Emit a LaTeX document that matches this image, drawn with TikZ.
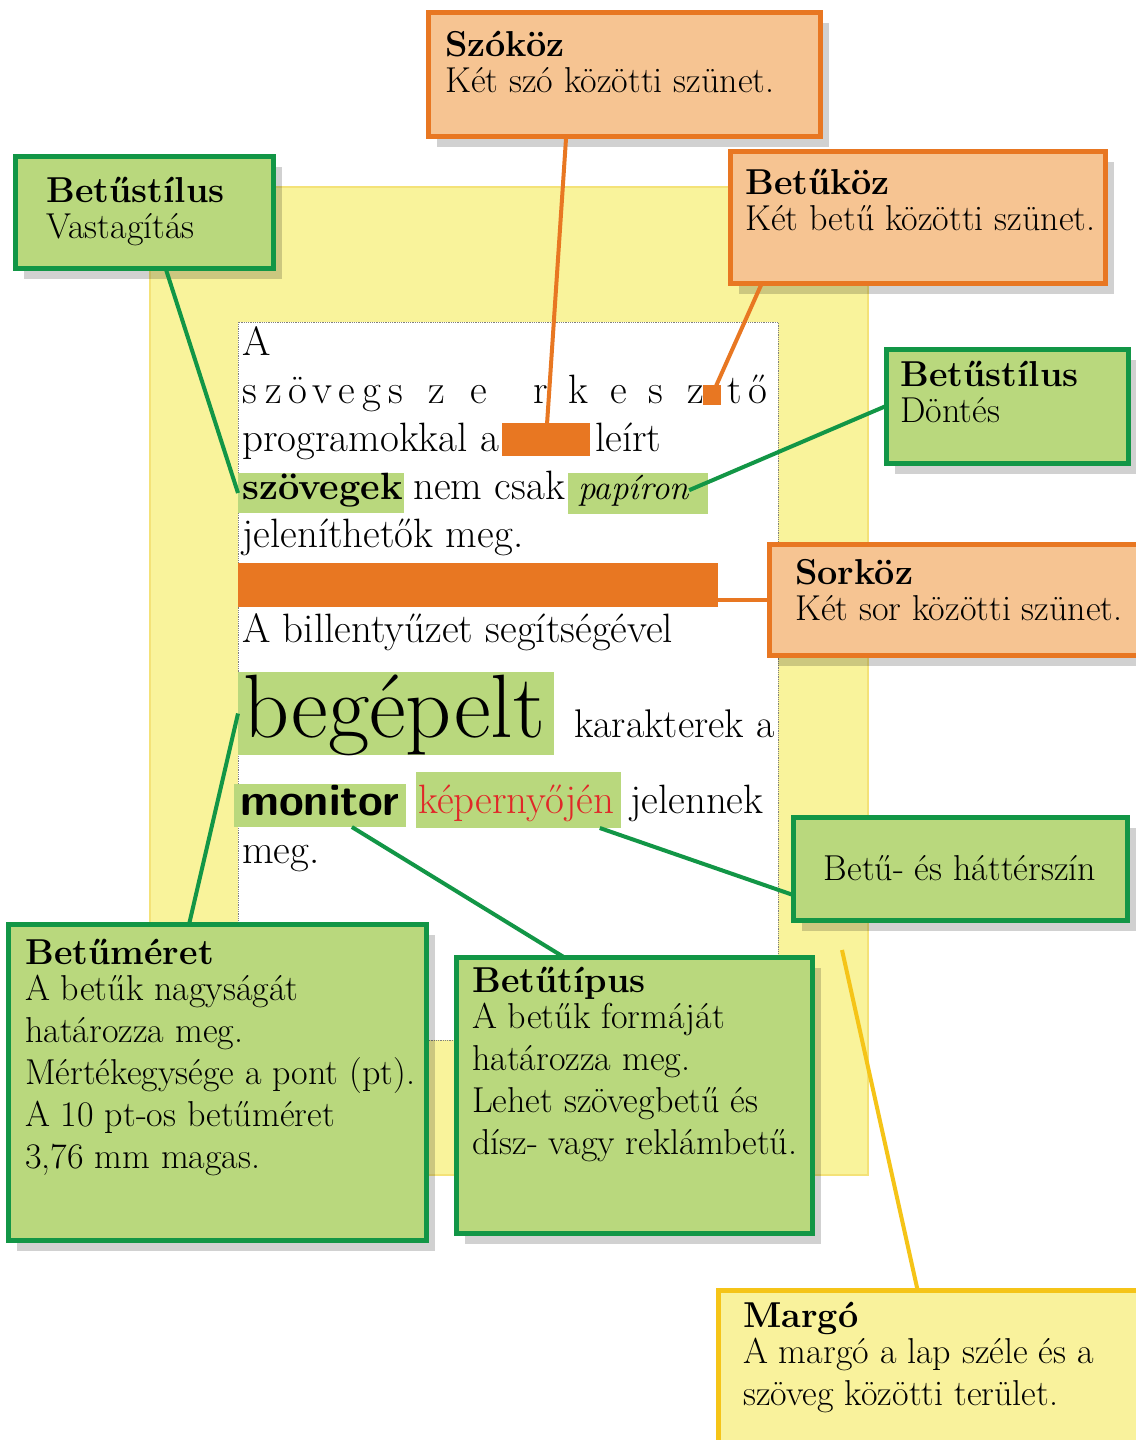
\documentclass[tikz,border=0pt]{standalone}
\usepackage{fontspec}
\usetikzlibrary{shadows}

\definecolor{boxorange}{RGB}{232,119,34}
\definecolor{orangefill}{RGB}{246,196,146}
\definecolor{boxgreen}{RGB}{18,150,70}
\definecolor{greenfill}{RGB}{185,216,125}
\definecolor{pageyellow}{RGB}{249,243,155}
\definecolor{pageedge}{RGB}{244,226,120}
\definecolor{margogold}{RGB}{245,196,24}
\definecolor{margofill}{RGB}{249,242,156}
\definecolor{redtext}{RGB}{224,40,40}

\tikzset{
    infobox/.style={line width=5pt, anchor=north west, inner sep=0pt, outer sep=0pt,
        drop shadow={shadow xshift=9pt, shadow yshift=-11pt, opacity=.18, fill=black}},
    obox/.style={infobox, draw=boxorange, fill=orangefill},
    gbox/.style={infobox, draw=boxgreen, fill=greenfill},
    ybox/.style={infobox, draw=margogold, fill=margofill},
    oline/.style={draw=boxorange, line width=4pt},
    gline/.style={draw=boxgreen, line width=4pt},
    yline/.style={draw=margogold, line width=4pt},
    boxtext/.style={anchor=north west, align=left, inner sep=0pt, font=\fontsize{36}{36}\selectfont},
    pagetext/.style={anchor=base west, inner sep=0pt, font=\fontsize{41}{48}\selectfont},
    hl/.style={fill=greenfill, anchor=north west, inner sep=0pt, outer sep=0pt},
    markbox/.style={fill=boxorange, anchor=north west, inner sep=0pt, outer sep=0pt}
}

\begin{document}
\begin{tikzpicture}[x=1pt,y=1pt,yscale=-1]
    \useasboundingbox (0,0) rectangle (1135,1440);

    % lap es szovegterulet
    \node[fill=pageyellow, draw=pageedge, line width=1.5pt, anchor=north west, inner sep=0pt, outer sep=0pt,
        minimum width=718pt, minimum height=988pt] (page) at (150,187) {};
    \node[fill=white, draw=gray, densely dotted, line width=.8pt, anchor=north west, inner sep=0pt, outer sep=0pt,
        minimum width=540pt, minimum height=718pt] (textarea) at (238,322) {};

    % kiemelesek
    \node[markbox, minimum width=88pt, minimum height=33pt] (szokozmark) at (502,423) {};
    \node[markbox, minimum width=18pt, minimum height=20pt] (betukozmark) at (703,385) {};
    \node[markbox, minimum width=480pt, minimum height=44pt] (sorkozbar) at (238,563) {};
    \node[hl, minimum width=166pt, minimum height=40pt] (szovegekhl) at (238,473) {};
    \node[hl, minimum width=140pt, minimum height=41pt] (papironhl) at (568,473) {};
    \node[hl, minimum width=316pt, minimum height=83pt] (begepelthl) at (238,672) {};
    \node[hl, minimum width=172pt, minimum height=43pt] (monitorhl) at (234,784) {};
    \node[hl, minimum width=205pt, minimum height=56pt] (kephl) at (416,772) {};

    % a minta szoveg
    \node[pagetext] (sorA) at (242,355) {A};
    \foreach \ch/\xx [count=\i] in {s/242,z/265,ö/288,v/312,e/338,g/362,s/388,z/428,e/470,r/533,k/568,e/610,s/648,z/687,t/727,ő/748}
        \node[pagetext] (betu\i) at (\xx,403) {\ch};
    \node[pagetext] (prog) at (242,451) {programokkal a};
    \node[pagetext] (leirt) at (595,451) {leírt};
    \node[pagetext] (szovegek) at (242,499) {\fontsize{38}{48}\selectfont\bfseries szövegek};
    \node[pagetext] (nemcsak) at (413,499) {nem csak};
    \node[pagetext] (papiron) at (578,499) {\fontsize{35}{48}\selectfont\itshape papíron};
    \node[pagetext] (jelen) at (242,547) {jeleníthetők meg.};
    \node[pagetext] (billentyu) at (242,642) {A billentyűzet segítségével};
    \node[pagetext] (begepelt) at (243,737) {\fontsize{90}{90}\selectfont begépelt};
    \node[pagetext] (karakterek) at (574,737) {\fontsize{40}{48}\selectfont karakterek a};
    \node[pagetext] (monitor) at (240,815) {\fontsize{45}{45}\selectfont\sffamily\bfseries monitor};
    \node[pagetext, text=redtext] (kepernyo) at (418,813) {képernyőjén};
    \node[pagetext] (jelennek) at (630,813) {jelennek};
    \node[pagetext] (meg) at (242,863) {meg.};

    \coordinate (margopt) at (842,950);

    % magyarazo dobozok
    \node[obox, minimum width=392pt, minimum height=124pt] (szokoz) at (428,12) {};
    \node[obox, minimum width=375pt, minimum height=132pt] (betukoz) at (730,151) {};
    \node[gbox, minimum width=258pt, minimum height=112pt] (vastag) at (15,156) {};
    \node[gbox, minimum width=242pt, minimum height=114pt] (dontes) at (886,349) {};
    \node[obox, minimum width=380pt, minimum height=111pt] (sorkoz) at (769,544) {};
    \node[gbox, minimum width=334pt, minimum height=103pt, font=\fontsize{36}{36}\selectfont] (szin) at (793,817) {Betű- és háttérszín};
    \node[gbox, minimum width=418pt, minimum height=316pt] (meret) at (8,924) {};
    \node[gbox, minimum width=356pt, minimum height=276pt] (tipus) at (456,957) {};
    \node[ybox, minimum width=420pt, minimum height=170pt] (margo) at (718,1290) {};

    % osszekotok
    \draw[oline] (szokoz.-133) -- (szokozmark.center);
    \draw[oline] (betukoz.-157) -- (betukozmark.center);
    \draw[oline] (sorkoz.west) -- (sorkoz.west -| sorkozbar.east);
    \draw[gline] (vastag.-69) -- (szovegekhl.west);
    \draw[gline] (dontes.west) -- (papiron.east);
    \draw[gline] (szin.-171) -- (kephl.-19);
    \draw[gline] (meret.100) -- (begepelthl.west);
    \draw[gline] (tipus.117) -- (monitorhl.-34);
    \draw[yline] (margo.97) -- (margopt);

    % dobozok szovege
    \node[boxtext] (szokoztxt) at (445,31) {\textbf{Szóköz}\\Két szó közötti szünet.};
    \node[boxtext] (betukoztxt) at (745,169) {\textbf{Betűköz}\\Két betű közötti szünet.};
    \node[boxtext] (vastagtxt) at (46,177) {\textbf{Betűstílus}\\Vastagítás};
    \node[boxtext] (dontestxt) at (900,361) {\textbf{Betűstílus}\\Döntés};
    \node[boxtext] (sorkoztxt) at (795,559) {\textbf{Sorköz}\\Két sor közötti szünet.};
    \node[boxtext] (merettxt) at (25,939) {\textbf{Betűméret}\\A betűk nagyságát\\[6pt]határozza meg.\\[6pt]Mértékegysége a pont (pt).\\[6pt]A 10 pt-os betűméret\\[6pt]3,76 mm magas.};
    \node[boxtext] (tipustxt) at (472,967) {\textbf{Betűtípus}\\A betűk formáját\\[6pt]határozza meg.\\[6pt]Lehet szövegbetű és\\[6pt]dísz- vagy reklámbetű.};
    \node[boxtext] (margotxt) at (743,1302) {\textbf{Margó}\\A margó a lap széle és a\\[6pt]szöveg közötti terület.};
\end{tikzpicture}
\end{document}
